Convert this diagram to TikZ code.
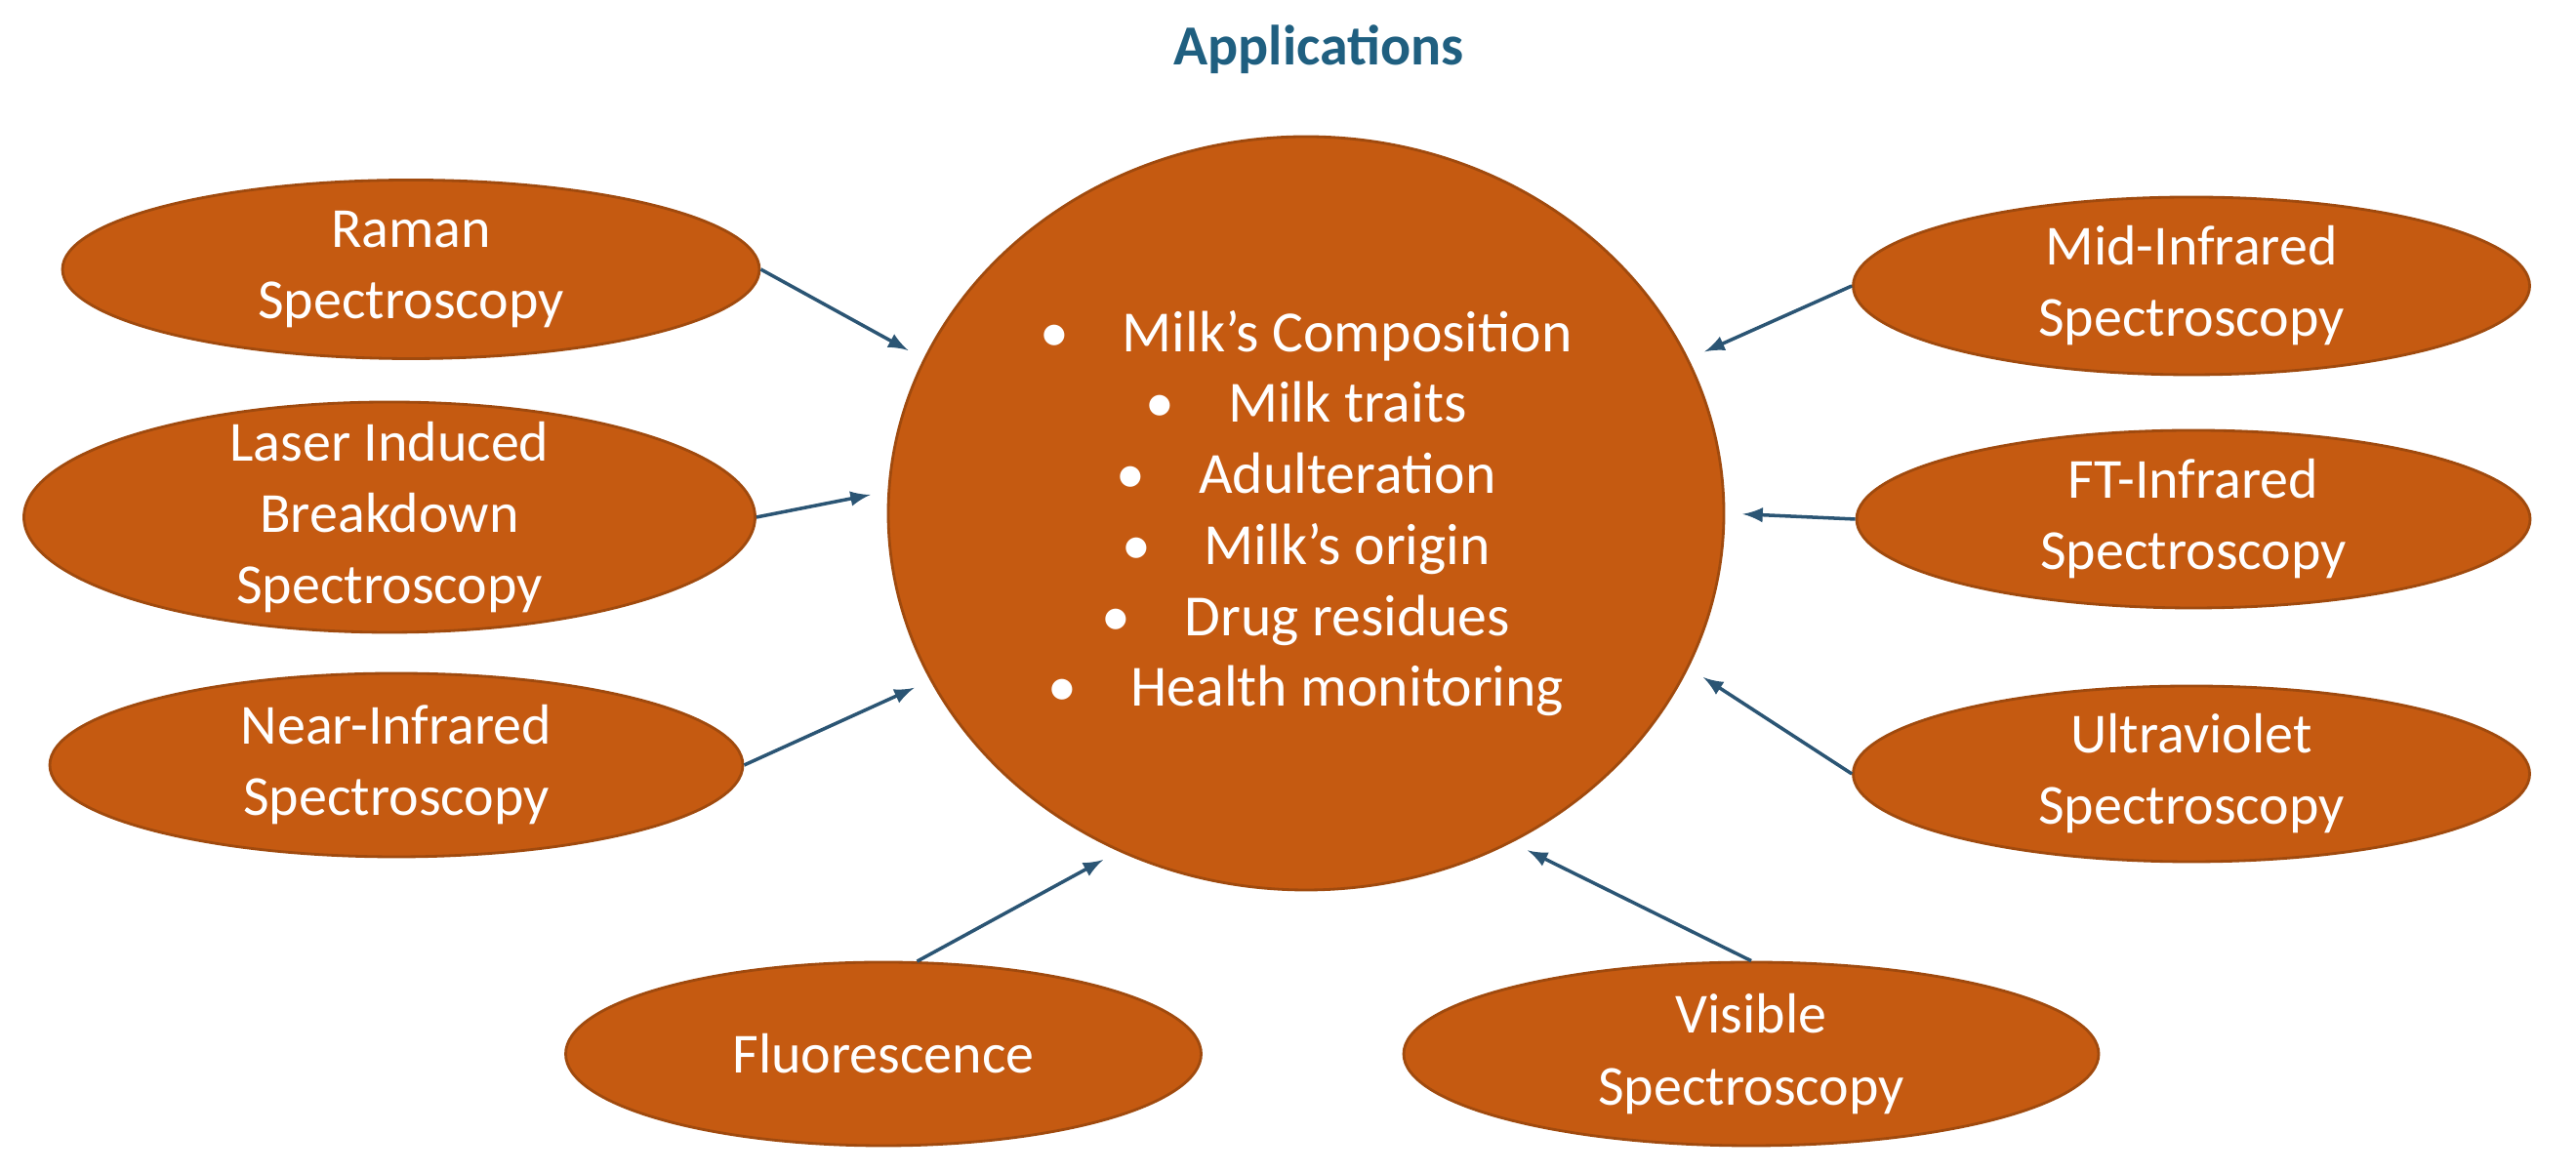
\documentclass[tikz,border=0pt]{standalone}
\usepackage{fontspec}
\setmainfont{Carlito}
\usepackage{xcolor}
\usetikzlibrary{shapes.geometric, arrows}

\definecolor{specfill}{HTML}{C55A11}
\definecolor{specedge}{HTML}{A04A0E}
\definecolor{arrowblue}{HTML}{2B5574}
\definecolor{titleblue}{HTML}{1F5F80}

\begin{document}
\begin{tikzpicture}[
    block/.style={ellipse, draw=specedge, line width=0.8pt, fill=specfill, text=white, align=center, inner sep=-0.3cm, font=\fontsize{16.5}{20.8}\selectfont},
    line/.style={draw=arrowblue, line width=1pt, -latex, shorten >=0.18cm}]

    \useasboundingbox (0,0) rectangle (26.39,12.02);

    \node [text=titleblue, font=\bfseries\fontsize{16.5}{20}\selectfont] (title) at (13.51,11.51) {Applications};

    \node [block, minimum width=8.56cm, minimum height=7.72cm, inner sep=0pt, font=\fontsize{17}{20.7}\selectfont] (hub) at (13.38,6.76)
        {•\hspace{0.55cm}Milk’s Composition\\
         •\hspace{0.55cm}Milk traits\\
         •\hspace{0.55cm}Adulteration\\
         •\hspace{0.55cm}Milk’s origin\\
         •\hspace{0.55cm}Drug residues\\
         •\hspace{0.55cm}Health monitoring};

    \node [block, minimum width=7.14cm, minimum height=1.83cm] (raman) at (4.21,9.26) {Raman\\Spectroscopy};
    \node [block, minimum width=7.49cm, minimum height=2.36cm] (libs) at (3.99,6.72) {Laser Induced\\Breakdown\\Spectroscopy};
    \node [block, minimum width=7.10cm, minimum height=1.88cm] (nir) at (4.06,4.18) {Near-Infrared\\Spectroscopy};
    \node [block, minimum width=6.93cm, minimum height=1.82cm] (mir) at (22.45,9.09) {Mid-Infrared\\Spectroscopy};
    \node [block, minimum width=6.90cm, minimum height=1.82cm] (ftir) at (22.47,6.70) {FT-Infrared\\Spectroscopy};
    \node [block, minimum width=6.93cm, minimum height=1.80cm] (uv) at (22.45,4.09) {Ultraviolet\\Spectroscopy};
    \node [block, minimum width=6.51cm, minimum height=1.88cm] (fluor) at (9.05,1.22) {Fluorescence};
    \node [block, minimum width=7.12cm, minimum height=1.88cm] (vis) at (17.94,1.22) {Visible\\Spectroscopy};

    \path [line] (raman.east) -- (hub.158);
    \path [line] (libs.east) -- (hub.177);
    \path [line] (nir.east) -- (hub.204);
    \path [line] (mir.west) -- (hub.22);
    \path [line] (ftir.west) -- (hub.0);
    \path [line] (uv.west) -- (hub.-22);
    \path [line] (fluor.70) -- (hub.241);
    \path [line] (vis.north) -- (hub.302);
\end{tikzpicture}
\end{document}
